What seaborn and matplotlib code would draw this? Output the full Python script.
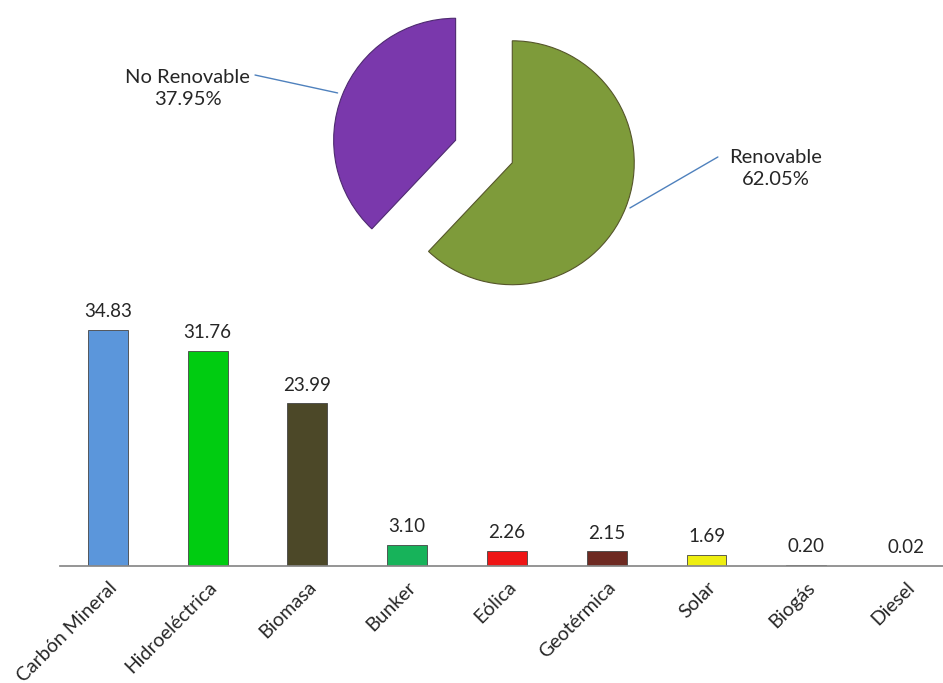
import matplotlib
matplotlib.use("Agg")
import matplotlib.pyplot as plt
import seaborn as sns
import pandas as pd

# datos de la torta
pie_labels = ["Renovable", "No Renovable"]
pie_values = [62.05, 37.95]
pie_colors = ["#7E9B3A", "#7A38AC"]

# datos de las barras
fuentes = ["Carbón Mineral", "Hidroeléctrica", "Biomasa", "Bunker", "Eólica",
           "Geotérmica", "Solar", "Biogás", "Diesel"]
porcentajes = [34.83, 31.76, 23.99, 3.10, 2.26, 2.15, 1.69, 0.20, 0.02]
colores = ["#5B96DB", "#00CC11", "#4C4828", "#17B35A", "#EE1515",
           "#6E2A22", "#EEEE10", "#BBBBBB", "#BBBBBB"]

sns.set_theme(style="white")
plt.rcParams["font.family"] = ["Lato", "DejaVu Sans"]

fig = plt.figure(figsize=(9.43, 6.83), dpi=100)

# ---- torta ----
ax_pie = fig.add_axes([0.3192, 0.5102, 0.388, 0.536])
wedges, _ = ax_pie.pie(pie_values, colors=pie_colors, startangle=90, counterclock=False,
                       explode=[0.25, 0.25],
                       wedgeprops=dict(edgecolor="#55552a", linewidth=0.8))
wedges[1].set_edgecolor("#4e2a70")
ax_pie.set_xlim(-1.5, 1.5)
ax_pie.set_ylim(-1.5, 1.5)
ax_pie.set_aspect("equal")
ax_pie.axis("off")

line_col = "#4F81BD"
ax_pie.plot([-1.877, -1.20], [0.627, 0.48], color=line_col, lw=1, clip_on=False)
ax_pie.plot([1.918, 1.197], [-0.045, -0.463], color=line_col, lw=1, clip_on=False)
ax_pie.text(-2.43, 0.52, f"{pie_labels[1]}\n{pie_values[1]:.2f}%", ha="center", va="center",
            fontsize=14.5, linespacing=1.35, clip_on=False)
ax_pie.text(2.39, -0.14, f"{pie_labels[0]}\n{pie_values[0]:.2f}%", ha="center", va="center",
            fontsize=14.5, linespacing=1.35, clip_on=False)

# ---- barras ----
df = pd.DataFrame({"fuente": fuentes, "pct": porcentajes})
ax = fig.add_axes([0.0636, 0.1713, 0.9364, 0.4041])
sns.barplot(data=df, x="fuente", y="pct", hue="fuente", palette=colores, saturation=1,
            width=0.4, legend=False, ax=ax, edgecolor="#444444", linewidth=0.6)
ax.set_xlim(-0.48, 8.37)
ax.set_ylim(0, 40.7)
for cont in ax.containers:
    ax.bar_label(cont, fmt="%.2f", padding=7, fontsize=13.5)
ax.set_xlabel("")
ax.set_ylabel("")
ax.set_yticks([])
sns.despine(ax=ax, left=True)
ax.spines["bottom"].set_color("#888888")
ax.tick_params(axis="x", length=0, pad=9)
plt.setp(ax.get_xticklabels(), rotation=45, ha="right", rotation_mode="anchor", fontsize=14)

fig.savefig("out.png", dpi=100)
